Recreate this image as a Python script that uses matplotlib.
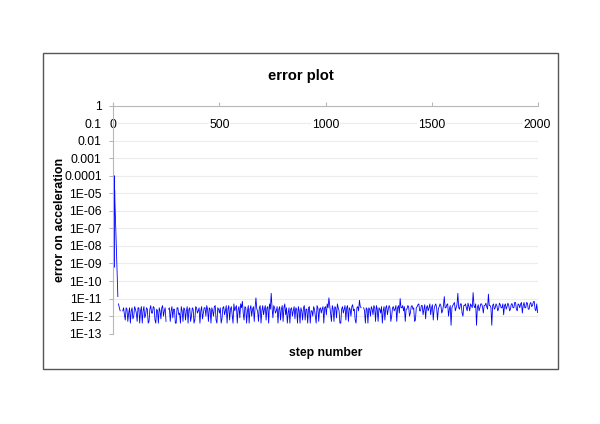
"""Error plot: acceleration error per integration step (log scale)."""
from __future__ import annotations

import matplotlib

matplotlib.use("Agg")
import matplotlib.pyplot as plt
import numpy as np
from matplotlib.patches import Rectangle
from matplotlib.ticker import NullLocator

nan = float("nan")

# start-up transient (steps)
init_steps = [1, 2, 3, 4, 5, 6, 7, 21, 22]
init_err = [1.5e-6, 2e-5, 6e-10, 1e-4, 1e-6, 1.5e-5, 4e-6, 1.3e-11, nan]

# steady part, one value every 4 steps from 24 to 2000
noise_first, noise_last, noise_every = 24, 2000, 4
noise_err = [
    5e-12, 3e-12, 2e-12, nan, nan, 2e-12, 3e-12, 1.2e-12, 6e-13, 3e-12, 2.5e-12, 5e-13, 1.5e-12, 3e-12, 4e-13, 2e-12, 3e-12, 7e-13, 1e-12, 3.5e-12,
    2.5e-12, 1.5e-12, 5e-13, 3e-12, 3e-12, 4e-13, 2e-12, 3.5e-12, 4e-13, 2e-12, 3.5e-12, 8e-13, 1.2e-12, 3e-12, 2.5e-12, 4e-13, 5e-13, 2.5e-12, 4e-12, 1.5e-12,
    1.5e-12, 3.5e-12, 3e-12, 6e-13, 4e-13, 2.5e-12, 2e-12, 4e-13, 3e-12, 2e-12, 7e-13, 3e-12, 4e-12, 1e-12, 2e-12, 3e-12, 5e-13, nan, nan, 2.5e-12,
    3e-12, 5e-13, 2e-12, 3.5e-12, 8e-13, 2.5e-12, 2.5e-12, 4e-13, 4e-13, 3e-12, 3e-12, 1.2e-12, 1.5e-12, 4e-13, 3.5e-12, 2e-12, 5e-13, 3e-12, 2.5e-12, 6e-13,
    2e-12, 3.5e-12, 4e-13, 2.5e-12, 3e-12, 5e-13, 1e-12, 3e-12, 2.5e-12, 4e-13, 6e-13, 3.5e-12, 3e-12, 1.5e-12, 2e-12, 3e-12, 4e-13, 2e-12, 3.5e-12, 7e-13,
    1.5e-12, 3e-12, 3e-12, 1e-12, 4e-12, 2.5e-12, 5e-13, 3e-12, 2.5e-12, 4e-13, 3e-12, 2e-12, 1e-12, 3.5e-12, 4e-12, 6e-13, 4e-13, 3e-12, 2.5e-12, 1.5e-12,
    3e-12, 4e-13, 7e-13, 3e-12, 3.5e-12, 1.2e-12, 2e-12, 4e-12, 4e-13, 2.5e-12, 4e-12, 6e-13, 2.5e-12, 3.5e-12, 1.2e-12, 4e-13, 5e-12, 2e-12, 3e-12, 4e-12,
    4e-13, 2.5e-12, 3.5e-12, 8e-13, 5e-12, 3e-12, 7e-12, 1.5e-12, 6e-13, 3.5e-12, 3e-12, 4e-13, 2e-12, 4e-12, 4e-13, 2.5e-12, 4e-12, 1e-12, 2.5e-12, 3.5e-12,
    5e-13, 3e-12, 1.1e-11, 2.5e-12, 2e-12, 5e-13, 3e-12, 4e-12, 4e-13, 2e-12, 4e-12, 1.2e-12, 2.5e-12, 4e-12, 6e-13, 3e-12, 3.5e-12, 4e-13, 5e-12, 2.5e-12,
    2e-11, 3e-12, 8e-13, 4e-12, 3e-12, 1.5e-12, 2e-12, 3.5e-12, 4e-13, 2.5e-12, 3.5e-12, 6e-13, 2.5e-12, 4e-12, 5e-13, 3e-12, 5e-12, 1.2e-12, 3e-12, 4e-13,
    1.5e-12, 3e-12, 4e-13, 2.5e-12, 3e-12, 1e-12, 2e-12, 3.5e-12, 7e-13, 3e-12, 2.5e-12, 4e-13, 3.5e-12, 2e-12, 4e-13, 3e-12, 2e-12, 6e-13, 3e-12, 4e-12,
    6e-13, 2.5e-12, 2.5e-12, 4e-13, 3e-12, 3.5e-12, 4e-13, 2e-12, 2e-12, 1e-12, 3.5e-12, 2.5e-12, 1e-12, 4e-13, 4e-12, 3e-12, 5e-13, 2.5e-12, 3e-12, 1.5e-12,
    2.5e-12, 3.5e-12, 4e-13, 3e-12, 3.5e-12, 1.2e-12, 5e-12, 3e-12, 1.1e-11, 4e-12, 1.5e-12, 5e-13, 4e-12, 2.5e-12, 5e-13, 3.5e-12, 3e-12, 8e-13, 5e-12, 3e-12,
    2e-12, 4e-13, 4e-13, 2.5e-12, 3.5e-12, 1.5e-12, 2.5e-12, 4e-12, 6e-13, 3e-12, 4e-12, 5e-13, 3e-12, 2.5e-12, 1e-12, 3.5e-12, 4.5e-12, 2e-12, 2.5e-12, 6e-13,
    4e-13, 3e-12, 3.5e-12, 2e-12, 8e-12, 3.5e-12, 3e-12, nan, nan, 3e-12, 2e-12, 4e-13, 3e-12, 2.5e-12, 4e-13, 3e-12, 2.5e-12, 1e-12, 3.5e-12, 2.5e-12,
    1.2e-12, 4e-12, 3e-12, 5e-13, 4e-12, 2.5e-12, 5e-13, 3e-12, 2.5e-12, 1.5e-12, 3.5e-12, 4e-13, 2e-12, 3.5e-12, 6e-13, 3e-12, 4e-12, 1.2e-12, 2.5e-12, 4e-12,
    3e-12, 5e-13, 1e-12, 3e-12, 3.5e-12, 2e-12, 2.5e-12, 4e-12, 5e-13, 3e-12, 4e-12, 1.5e-12, 1e-11, 3e-12, 3e-12, 4e-12, 2e-12, 3.5e-12, 5e-13, 2.5e-12,
    2.5e-12, 4e-12, 3.5e-12, 1e-12, 1.5e-12, 3.5e-12, 4e-12, 2.5e-12, 3e-12, 5e-13, 6e-13, 3e-12, 3.5e-12, 4.5e-12, 5e-12, 2e-12, 2e-12, 4e-12, 4e-12, 1.2e-12,
    2.5e-12, 4.5e-12, 7e-13, 3e-12, 4e-12, 2e-12, 3e-12, 5e-12, 1.2e-12, 3e-12, 4.5e-12, 6e-13, 2.5e-12, 4e-12, 5e-12, 3e-12, 6e-13, 2.5e-12, 3.5e-12, 5e-12,
    4e-12, 1.5e-12, 2e-12, 4e-12, 1.3e-11, 3e-12, 3e-12, 4.5e-12, 5e-12, 1e-12, 2.5e-12, 4e-12, 3e-13, 3e-12, 4e-12, 5e-12, 6e-12, 2e-12, 3e-12, 4.5e-12,
    2e-11, 3e-12, 2.5e-12, 5e-12, 5e-12, 1.5e-12, 1e-12, 4e-12, 4e-12, 5e-12, 3e-12, 2e-12, 5.5e-12, 3.5e-12, 2e-12, 5e-12, 4e-12, 3e-12, 2.2e-11, 4e-12,
    3e-12, 5e-12, 3e-13, 3e-12, 4.5e-12, 2e-12, 3e-12, 5e-12, 5e-12, 3.5e-12, 1.5e-12, 4e-12, 4e-12, 5.5e-12, 3.5e-12, 2.5e-12, 1.8e-11, 4e-12, 4e-12, 3e-12,
    3e-13, 4e-12, 5e-12, 2.5e-12, 3e-12, 5e-12, 4e-12, 2e-12, 2.5e-12, 5.5e-12, 4.5e-12, 3e-12, 3e-12, 5e-12, 1.2e-12, 4e-12, 5e-12, 2.5e-12, 3.5e-12, 5.5e-12,
    4e-12, 2e-12, 2.5e-12, 5e-12, 5e-12, 3e-12, 3e-12, 6e-12, 6e-12, 2.5e-12, 2e-12, 5e-12, 4.5e-12, 3e-12, 5e-12, 6e-12, 1.5e-12, 4e-12, 6e-12, 3e-12,
    3e-12, 6e-12, 5.5e-12, 2.5e-12, 2.5e-12, 5e-12, 6e-12, 3.5e-12, 4e-12, 6.5e-12, 7e-12, 2.5e-12, 2e-12, 5e-12, 1.6e-12,
]

xticks = [0, 500, 1000, 1500, 2000]
yticks = [10.0 ** -k for k in range(14)]
ytick_labels = [
    "1", "0.1", "0.01", "0.001", "0.0001", "1E-05", "1E-06",
    "1E-07", "1E-08", "1E-09", "1E-10", "1E-11", "1E-12", "1E-13",
]

plt.rcParams["font.family"] = ["Liberation Sans", "DejaVu Sans"]


def main() -> None:
    steps = np.concatenate([
        np.array(init_steps, dtype=float),
        np.arange(noise_first, noise_last + 1, noise_every, dtype=float),
    ])
    err = np.array(init_err + noise_err, dtype=float)

    fig = plt.figure(figsize=(6.0, 4.24), dpi=100)
    fig.patches.append(Rectangle((0.0717, 0.1297), 0.858, 0.745, transform=fig.transFigure,
                                 fill=False, edgecolor="#555555", linewidth=1.0))

    ax = fig.add_axes([0.189, 0.213, 0.707, 0.538])
    ax.plot(steps, err, color="#0000ff", linewidth=0.6)

    ax.set_yscale("log")
    ax.set_ylim(1e-13, 1)
    ax.set_xlim(0, 2000)
    ax.set_yticks(yticks)
    ax.set_yticklabels(ytick_labels)
    ax.yaxis.set_minor_locator(NullLocator())
    ax.set_xticks(xticks)
    ax.set_xticklabels([str(t) for t in xticks])

    ax.grid(axis="y", color="#ececec", linewidth=0.8)
    ax.set_axisbelow(True)
    # x labels sit on the 0.1 gridline: draw the x axis after the y grid and blank behind them
    ax.xaxis.set_zorder(1.0)
    for side in ("right", "bottom"):
        ax.spines[side].set_visible(False)
    for side in ("left", "top"):
        ax.spines[side].set_color("#b8b8b8")
        ax.spines[side].set_linewidth(0.8)

    ax.xaxis.set_ticks_position("top")
    ax.tick_params(axis="x", direction="out", length=3, color="#b8b8b8", pad=-21, labelsize=8.7)
    ax.tick_params(axis="y", direction="out", length=3, color="#b8b8b8", pad=5.4, labelsize=8.7)
    for lab in ax.get_xticklabels():
        lab.set_bbox(dict(facecolor="white", edgecolor="none", pad=0.5))

    fig.text(0.502, 0.82, "error plot", ha="center", va="center", fontsize=10.7, fontweight="bold")
    fig.text(0.542, 0.167, "step number", ha="center", va="center", fontsize=8.8, fontweight="bold")
    fig.text(0.0993, 0.4818, "error on acceleration", ha="center", va="center", rotation=90,
             fontsize=8.9, fontweight="bold")

    fig.savefig("out.png", dpi=100)
    plt.close(fig)


if __name__ == "__main__":
    main()
